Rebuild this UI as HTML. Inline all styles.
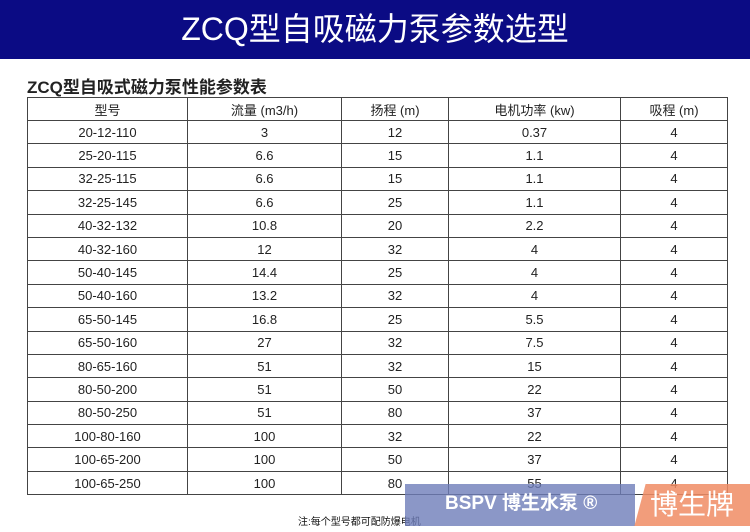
<!DOCTYPE html>
<html><head><meta charset="utf-8"><style>
body{margin:0;width:750px;height:532px;background:#fff;position:relative;overflow:hidden;font-family:"Liberation Sans","Noto Sans CJK SC",sans-serif;}
.ban{position:absolute;left:0;top:0;width:750px;height:59px;background:#0b0b84;color:#fff;font-size:32px;text-align:center;line-height:58px;}
.sub{position:absolute;left:27px;top:73px;font-size:17px;font-weight:bold;color:#222;}
table{position:absolute;left:27px;top:97px;border-collapse:collapse;font-size:13px;color:#222;}
td{border:1px solid #444;text-align:center;padding:0;height:22.4px;}
tr.h td{height:22px;}
.note{position:absolute;left:298px;top:513px;font-size:10px;color:#111;}
.logo{position:absolute;left:405px;top:484px;width:230px;height:42px;background:rgba(110,125,185,0.8);color:#fff;font-size:19px;font-weight:bold;line-height:40px;padding-left:40px;box-sizing:border-box;}
.org{position:absolute;left:640px;top:484px;width:120px;height:42px;background:rgba(240,140,100,0.85);color:#fff;font-size:28px;line-height:42px;padding-left:10px;transform:skewX(-15deg);}
.org span{display:inline-block;transform:skewX(15deg);}
</style></head><body>
<div class="ban">ZCQ型自吸磁力泵参数选型</div>
<div class="sub">ZCQ型自吸式磁力泵性能参数表</div>
<table>
<colgroup><col style="width:160px"><col style="width:154px"><col style="width:107px"><col style="width:172px"><col style="width:107px"></colgroup>
<tr class="h"><td>型号</td><td>流量 (m3/h)</td><td>扬程 (m)</td><td>电机功率 (kw)</td><td>吸程 (m)</td></tr>
<tr><td>20-12-110</td><td>3</td><td>12</td><td>0.37</td><td>4</td></tr>
<tr><td>25-20-115</td><td>6.6</td><td>15</td><td>1.1</td><td>4</td></tr>
<tr><td>32-25-115</td><td>6.6</td><td>15</td><td>1.1</td><td>4</td></tr>
<tr><td>32-25-145</td><td>6.6</td><td>25</td><td>1.1</td><td>4</td></tr>
<tr><td>40-32-132</td><td>10.8</td><td>20</td><td>2.2</td><td>4</td></tr>
<tr><td>40-32-160</td><td>12</td><td>32</td><td>4</td><td>4</td></tr>
<tr><td>50-40-145</td><td>14.4</td><td>25</td><td>4</td><td>4</td></tr>
<tr><td>50-40-160</td><td>13.2</td><td>32</td><td>4</td><td>4</td></tr>
<tr><td>65-50-145</td><td>16.8</td><td>25</td><td>5.5</td><td>4</td></tr>
<tr><td>65-50-160</td><td>27</td><td>32</td><td>7.5</td><td>4</td></tr>
<tr><td>80-65-160</td><td>51</td><td>32</td><td>15</td><td>4</td></tr>
<tr><td>80-50-200</td><td>51</td><td>50</td><td>22</td><td>4</td></tr>
<tr><td>80-50-250</td><td>51</td><td>80</td><td>37</td><td>4</td></tr>
<tr><td>100-80-160</td><td>100</td><td>32</td><td>22</td><td>4</td></tr>
<tr><td>100-65-200</td><td>100</td><td>50</td><td>37</td><td>4</td></tr>
<tr><td>100-65-250</td><td>100</td><td>80</td><td>55</td><td>4</td></tr>
</table>
<div class="note">注:每个型号都可配防爆电机</div>
<div class="logo">BSPV 博生水泵 ®</div>
<div class="org"><span>博生牌</span></div>
</body></html>
